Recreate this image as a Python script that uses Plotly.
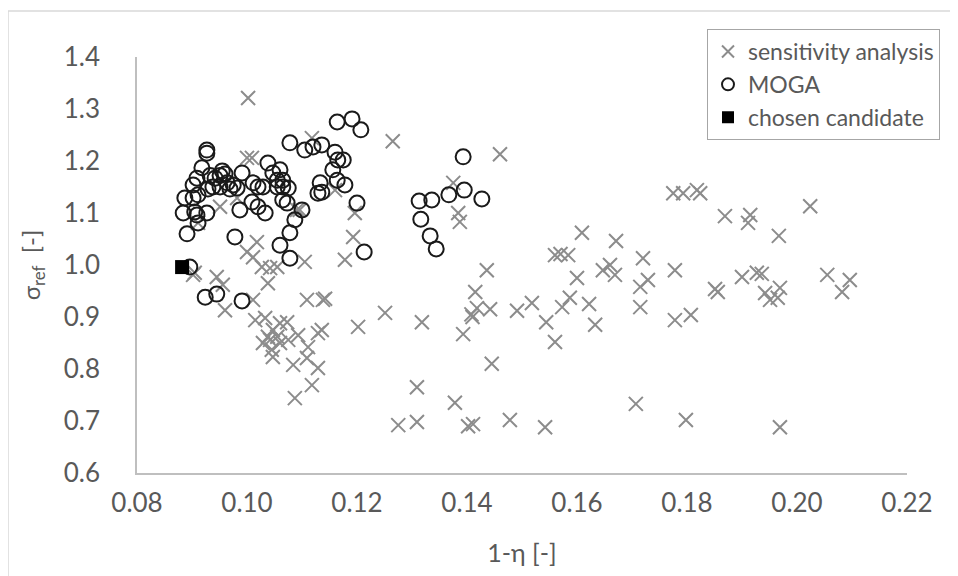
import plotly.graph_objects as go

# sensitivity analysis (x markers)
sens_x = [0.1002, 0.1265, 0.146, 0.1375, 0.1384, 0.1387, 0.1436, 0.1196, 0.1193, 0.1178, 0.116,
          0.1415, 0.1418, 0.141, 0.1408, 0.1442, 0.1393, 0.1445, 0.1251, 0.1202, 0.1318, 0.1491,
          0.1518, 0.1544, 0.156, 0.1573, 0.1587, 0.16, 0.156, 0.157, 0.1584, 0.1309, 0.1378,
          0.1275, 0.1309, 0.1402, 0.1411, 0.1478, 0.1542,
          0.1775, 0.1793, 0.1818, 0.1824, 0.1869, 0.1915, 0.1911, 0.1609, 0.1671, 0.172, 0.1778,
          0.1647, 0.166, 0.1669, 0.1729, 0.1715, 0.19, 0.1927, 0.1851, 0.1856, 0.1622, 0.1715,
          0.1633, 0.1778, 0.1807, 0.1707, 0.1798,
          0.2024, 0.1967, 0.1936, 0.1942, 0.1951, 0.1969, 0.1965, 0.2055, 0.2096, 0.2082, 0.1969,
          0.1118, 0.1, 0.1009, 0.0951, 0.0982, 0.0911, 0.1091, 0.1096, 0.1018, 0.1, 0.1011,
          0.1027, 0.1042, 0.1055, 0.1105, 0.0905, 0.0945, 0.0902, 0.0956, 0.096, 0.1011, 0.1038,
          0.1109, 0.1138, 0.1142,
          0.1015, 0.1033, 0.1047, 0.106, 0.1073, 0.1038, 0.1055, 0.1029, 0.1045, 0.106, 0.1075,
          0.1047, 0.1093, 0.1042, 0.1129, 0.1136, 0.1111, 0.1109, 0.1084, 0.1129, 0.1118, 0.1087]
sens_y = [1.321, 1.238, 1.213, 1.158, 1.100, 1.083, 0.990, 1.100, 1.054, 1.010, 1.144,
          0.948, 0.917, 0.900, 0.905, 0.915, 0.867, 0.810, 0.908, 0.881, 0.890, 0.912,
          0.927, 0.890, 0.852, 0.919, 0.937, 0.975, 1.019, 1.021, 1.019, 0.765, 0.735,
          0.692, 0.698, 0.690, 0.694, 0.702, 0.688,
          1.138, 1.138, 1.144, 1.138, 1.094, 1.096, 1.081, 1.062, 1.046, 1.013, 0.990,
          0.990, 1.000, 0.981, 0.971, 0.958, 0.977, 0.985, 0.954, 0.948, 0.925, 0.919,
          0.885, 0.894, 0.904, 0.733, 0.702,
          1.113, 1.056, 0.983, 0.946, 0.933, 0.956, 0.937, 0.981, 0.971, 0.948, 0.688,
          1.244, 1.206, 1.206, 1.112, 1.129, 1.081, 1.106, 1.106, 1.044, 1.025, 1.015,
          0.996, 0.994, 0.996, 1.006, 0.985, 0.977, 0.981, 0.962, 0.913, 0.933, 0.965,
          0.933, 0.933, 0.935,
          0.894, 0.898, 0.875, 0.888, 0.890, 0.862, 0.862, 0.850, 0.837, 0.850, 0.856,
          0.823, 0.865, 0.856, 0.869, 0.875, 0.842, 0.821, 0.808, 0.802, 0.769, 0.744]

# MOGA (open circles)
moga_x = [0.0927, 0.0927, 0.1164, 0.1078, 0.1105, 0.112, 0.1136, 0.116, 0.1156, 0.1165, 0.1164,
          0.0991, 0.0918, 0.0909, 0.0902,
          0.0933, 0.0942, 0.0951, 0.096, 0.0938, 0.0951, 0.0964, 0.0975, 0.0929, 0.0955, 0.0969,
          0.0982, 0.0887, 0.0902, 0.0911, 0.0884, 0.0905, 0.0909, 0.0927, 0.0911, 0.0891, 0.0978,
          0.0987, 0.1009, 0.102, 0.1033, 0.1011, 0.102, 0.1029, 0.1038, 0.1047, 0.106, 0.1055,
          0.1065, 0.1055, 0.1065, 0.1075, 0.1065, 0.1073, 0.11, 0.1087, 0.1078, 0.106, 0.1078,
          0.1133, 0.1136, 0.1129, 0.0896,
          0.0924, 0.0945, 0.0991,
          0.1191, 0.1207, 0.1175, 0.1178, 0.12, 0.1213, 0.1393, 0.1313, 0.1336, 0.1367, 0.1395,
          0.1427, 0.1316, 0.1333, 0.1344]
moga_y = [1.221, 1.215, 1.275, 1.235, 1.221, 1.227, 1.231, 1.217, 1.183, 1.202, 1.163,
          1.177, 1.187, 1.167, 1.154,
          1.172, 1.167, 1.172, 1.175, 1.150, 1.150, 1.158, 1.154, 1.146, 1.181, 1.146,
          1.148, 1.129, 1.129, 1.135, 1.100, 1.102, 1.096, 1.100, 1.081, 1.060, 1.054,
          1.106, 1.121, 1.112, 1.100, 1.158, 1.150, 1.150, 1.196, 1.177, 1.183, 1.163,
          1.163, 1.150, 1.150, 1.148, 1.125, 1.119, 1.106, 1.087, 1.062, 1.038, 1.013,
          1.158, 1.140, 1.138, 0.996,
          0.938, 0.944, 0.931,
          1.281, 1.260, 1.202, 1.154, 1.119, 1.025, 1.208, 1.123, 1.125, 1.135, 1.144,
          1.127, 1.088, 1.056, 1.031]

# chosen candidate
cand_x = [0.0882]
cand_y = [0.996]

x_ticks = [0.08, 0.10, 0.12, 0.14, 0.16, 0.18, 0.20, 0.22]
y_ticks = [0.6, 0.7, 0.8, 0.9, 1.0, 1.1, 1.2, 1.3, 1.4]

FONT = "Lato"
TXT = "#595959"

fig = go.Figure()
fig.add_trace(go.Scatter(
    x=sens_x, y=sens_y, mode="markers", name="sensitivity analysis",
    marker=dict(symbol="x-thin-open", size=14, color="#8c8c8c",
                line=dict(color="#8c8c8c", width=2))))
fig.add_trace(go.Scatter(
    x=moga_x, y=moga_y, mode="markers", name="MOGA",
    marker=dict(symbol="circle-open", size=15, color="#1a1a1a",
                line=dict(color="#1a1a1a", width=2))))
fig.add_trace(go.Scatter(
    x=cand_x, y=cand_y, mode="markers", name="chosen candidate",
    marker=dict(symbol="square", size=14, color="#000000")))

OFF = 8  # page body margin of the browser
W, H = 958 - OFF, 576 - OFF
# plot area in screen pixels: x 137..907, y 57..473
L, R, T, B = 137 - OFF, 958 - 907, 57 - OFF, 576 - 473
pw, ph = W - L - R, H - T - B


def px(xs):
    return (xs - OFF - L) / pw


def py(ys):
    return (H - B - (ys - OFF)) / ph


fig.update_layout(
    width=W, height=H,
    margin=dict(l=L, r=R, t=T, b=B, autoexpand=False),
    paper_bgcolor="white", plot_bgcolor="white",
    font=dict(family=FONT, size=23, color=TXT),
    showlegend=True,
    legend=dict(x=px(707), y=py(29), xanchor="left", yanchor="top",
                bordercolor="#a6a6a6", borderwidth=1, bgcolor="white",
                font=dict(family=FONT, size=23, color=TXT),
                itemsizing="constant", tracegroupgap=0),
    xaxis=dict(range=[0.08, 0.22], tickvals=x_ticks, tickformat=".2f",
               showgrid=False, zeroline=False, showline=True,
               linecolor="#bfbfbf", linewidth=1.5, ticks="",
               ticklabelstandoff=6,
               tickfont=dict(family=FONT, size=26, color=TXT),
               title=dict(text="1-η [-]", font=dict(family=FONT, size=25, color=TXT),
                          standoff=28)),
    yaxis=dict(range=[0.6, 1.4], tickvals=y_ticks, tickformat=".1f",
               showgrid=False, zeroline=False, showline=True,
               linecolor="#bfbfbf", linewidth=1.5, ticks="",
               ticklabelstandoff=30,
               tickfont=dict(family=FONT, size=26, color=TXT),
               title=dict(text="σ<sub>ref</sub>  [-]",
                          font=dict(family=FONT, size=24, color=TXT),
                          standoff=16)),
    shapes=[
        dict(type="line", xref="paper", yref="paper",
             x0=px(8), x1=px(8), y0=py(11), y1=py(620),
             line=dict(color="#d9d9d9", width=1.5)),
        dict(type="line", xref="paper", yref="paper",
             x0=px(8), x1=px(1000), y0=py(11), y1=py(11),
             line=dict(color="#d9d9d9", width=1.5)),
    ],
)

fig.write_html("out.html")
